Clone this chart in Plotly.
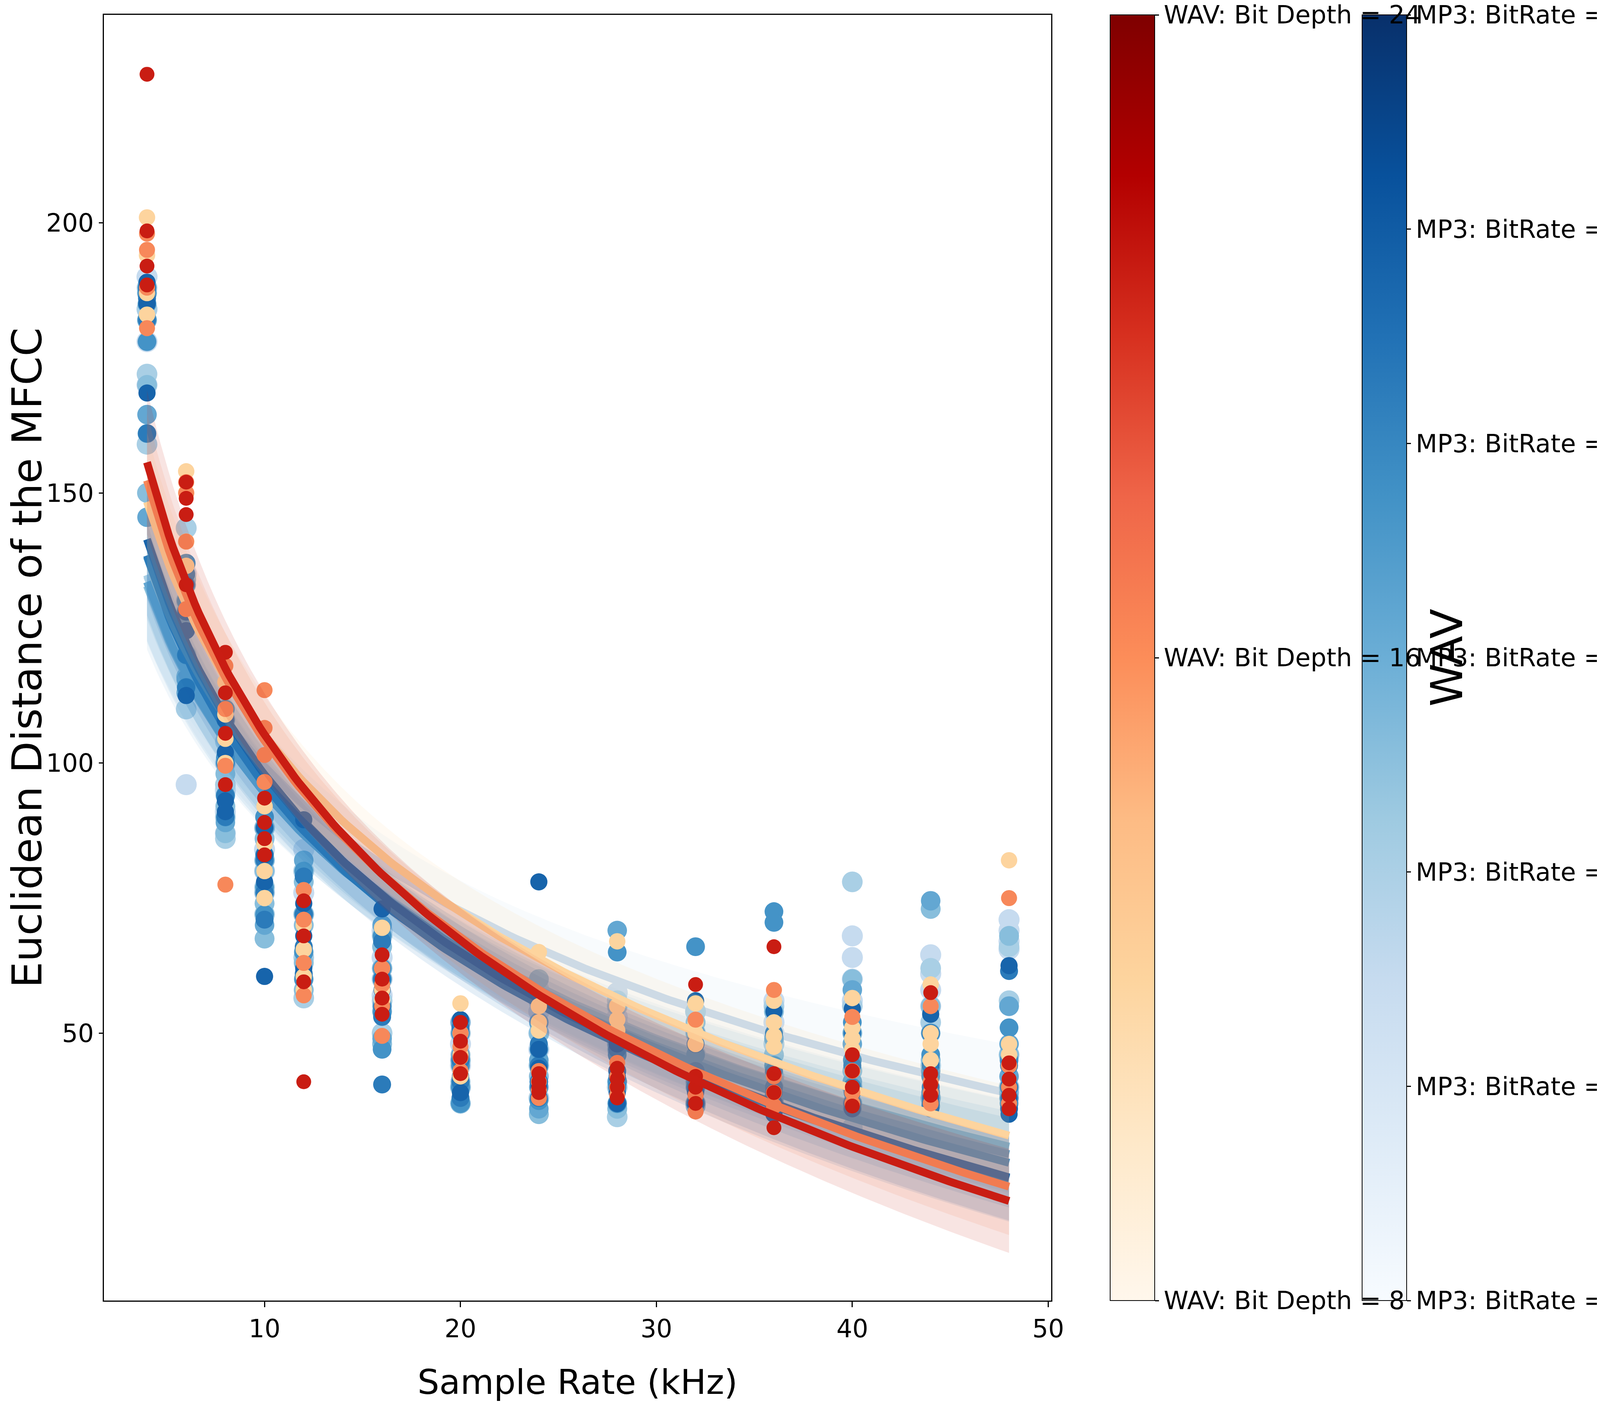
import numpy as np
import plotly.graph_objects as go

# Data
sample_rates = [4, 6, 8, 10, 12, 16, 20, 24, 28, 32, 36, 40, 44, 48]  # kHz

# Euclidean distance of the MFCC, four files per sample rate
mp3_br1 = [[190, 184, 178, 170], [143.5, 135, 125, 96], [100, 95, 91, 87], [88, 84, 80, 76],
           [84, 80, 76, 72], [69, 64, 60, 57], [52, 48, 44, 40], [58, 54, 50, 47],
           [57.5, 55, 53, 52], [54, 50, 46, 43], [56, 52, 50, 48], [68, 64, 60, 56],
           [64.5, 61, 58, 55], [71, 69, 67, 65.5]]
mp3_br2 = [[188, 184, 172, 159], [143.5, 130, 120, 110], [104, 96, 90, 86], [88, 82, 77, 72],
           [80, 72, 64, 56.5], [68, 62, 56, 50], [50, 45, 40, 37], [56, 50, 44, 38],
           [56, 48, 40, 34.5], [54, 46, 41, 37], [55, 48, 42, 38], [78, 55, 40, 32.5],
           [62, 52, 44, 38], [66, 56, 46, 40]]
mp3_br3 = [[187, 182, 170, 150], [134, 128, 119.5, 116], [106, 98, 92, 87], [86, 80, 74, 67.5],
           [78, 70, 63, 58], [66, 60, 54, 48], [52, 46, 41, 37], [60, 50, 42, 35],
           [55, 47, 41, 36], [52, 45, 40, 36.5], [54, 46, 41, 37], [60, 50, 43, 37],
           [73, 55, 45, 38], [68, 55, 46, 39]]
mp3_br4 = [[187, 182, 164.5, 145.5], [133, 126, 115.5, 113], [108, 100, 94, 89], [88, 82, 76, 70],
           [82, 72, 65, 60], [70, 62, 55, 49], [52, 45, 40, 37], [52, 45, 40, 36],
           [69, 48, 41, 37], [50, 44, 40, 37], [49, 44, 40, 37], [58, 48, 41, 37],
           [74.5, 50, 43, 38], [55, 48, 42, 38]]
mp3_br5 = [[188, 185, 178, 161], [137, 130, 120, 114], [110, 101, 94, 90], [90, 83, 77, 72],
           [80, 72, 65, 60], [68, 60, 54, 47], [50, 44, 40, 37], [47, 44, 41, 37.5],
           [65, 46, 41, 37], [66, 46, 41, 37], [72.5, 70.5, 44, 38], [52, 45, 40, 36],
           [46, 42, 39, 36.5], [51, 45, 40, 37]]
mp3_br6 = [[188, 186, 182, 161], [135, 128, 120, 114], [108, 100, 94, 90], [88, 82, 76, 71],
           [79, 72, 66, 61], [67, 60, 53, 40.5], [51, 45, 41, 38], [48, 44, 41, 38],
           [47, 43, 40, 37], [48, 43, 40, 37], [50, 43, 40, 37], [50, 44, 40, 37],
           [50, 44, 40, 37], [61.5, 44, 40, 36]]
mp3_br7 = [[189, 187, 185, 168.5], [133, 128, 124.5, 112.5], [108, 102, 93, 91], [88, 83, 78, 60.5],
           [89.5, 74, 68, 62], [73, 62, 58, 55], [52.5, 46, 42, 39], [78, 47, 43.5, 40],
           [48, 42, 39, 37], [56, 42, 39, 37], [54, 39, 37, 35], [54.5, 39, 37, 36],
           [53.5, 38, 37, 36], [62.5, 38, 36, 35]]

wav_bd8 = [[201, 194, 187, 183], [154, 150, 141, 136.5], [115, 109, 104.5, 100], [92, 85, 80, 75],
           [70, 65.5, 60.5, 58], [69.5, 62, 58, 56], [55.5, 50, 46, 42], [65, 55, 52, 50.5],
           [67, 55, 52.5, 50.5], [55.5, 52, 50, 48], [56, 52, 49.5, 47.5], [56.5, 51, 49, 47],
           [59, 50, 48, 45], [82, 48, 46, 44]]
wav_bd16 = [[198, 195, 188, 180.5], [152, 150, 141, 128.5], [118, 110, 99.5, 77.5], [113.5, 106.5, 101.5, 96.5],
            [76.5, 71, 63, 57], [62, 59, 55, 49.5], [50, 47.5, 45.5, 43], [43, 41, 39.5, 38],
            [44.5, 42, 40, 38.5], [52.5, 42, 38.5, 35.5], [58, 42, 39, 36.5], [53, 43, 39, 37],
            [55, 41, 39, 37], [75, 44, 40, 37]]
wav_bd24 = [[227.5, 198.5, 192, 188.5], [152, 149, 146, 133], [120.5, 113, 105.5, 96], [93.5, 89, 86, 83],
            [74.5, 68, 59.5, 41], [64.5, 60, 56.5, 53.5], [52, 48.5, 45.5, 42.5], [42.5, 41, 40, 39],
            [43.5, 41.5, 40, 38], [59, 42, 40, 37], [66, 42.5, 39, 32.5], [46, 43, 40, 36.5],
            [57.5, 42.5, 40.5, 38.5], [44.5, 41.5, 38.5, 36]]

mp3_bitrates = [8, 16, 32, 64, 128, 192, 320]
wav_bit_depths = [8, 16, 24]

mp3_series = [mp3_br1, mp3_br2, mp3_br3, mp3_br4, mp3_br5, mp3_br6, mp3_br7]
wav_series = [wav_bd8, wav_bd16, wav_bd24]

mp3_colors = ['#c6dbef', '#a9cfe5', '#88bedc', '#63a7d2', '#4493c7', '#2b7bba', '#1764ab']
wav_colors = ['#fdd49e', '#f7885a', '#c91d13']
mp3_sizes = [54, 53, 51, 50, 48, 46, 44]
wav_sizes = [42, 41, 38]

FONT = 'DejaVu Sans'


def rgba(hex_color, alpha):
    h = hex_color.lstrip('#')
    return 'rgba(%d,%d,%d,%.2f)' % (int(h[0:2], 16), int(h[2:4], 16), int(h[4:6], 16), alpha)


def log_fit(xs, ys):
    # y = a + b*ln(x) with a 95% confidence band
    lx = np.log(xs)
    b, a = np.polyfit(lx, ys, 1)
    n = len(xs)
    resid = ys - (a + b * lx)
    s = np.sqrt(np.sum(resid ** 2) / (n - 2))
    sxx = np.sum((lx - lx.mean()) ** 2)
    grid = np.linspace(min(xs), max(xs), 200)
    lg = np.log(grid)
    pred = a + b * lg
    se = s * np.sqrt(1.0 / n + (lg - lx.mean()) ** 2 / sxx)
    return grid, pred, pred - 1.96 * se, pred + 1.96 * se


fig = go.Figure()

all_series = list(zip(mp3_series, mp3_colors, mp3_sizes)) + list(zip(wav_series, wav_colors, wav_sizes))
for vals, color, size in all_series:
    xs = np.repeat(sample_rates, [len(v) for v in vals]).astype(float)
    ys = np.array([y for v in vals for y in v], dtype=float)

    fig.add_trace(go.Scatter(x=xs, y=ys, mode='markers',
                             marker=dict(color=color, size=size, line=dict(width=0)),
                             showlegend=False))

    grid, pred, lo, hi = log_fit(xs, ys)
    fig.add_trace(go.Scatter(x=grid, y=lo, mode='lines', line=dict(width=0, color=color),
                             showlegend=False, hoverinfo='skip'))
    fig.add_trace(go.Scatter(x=grid, y=hi, mode='lines', line=dict(width=0, color=color),
                             fill='tonexty', fillcolor=rgba(color, 0.12),
                             showlegend=False, hoverinfo='skip'))
    fig.add_trace(go.Scatter(x=grid, y=pred, mode='lines', line=dict(width=20, color=color),
                             showlegend=False))

# colour bars (MP3 bit rate, WAV bit depth), carried by invisible markers
cb_common = dict(y=0.5, yanchor='middle', len=1, lenmode='fraction', thickness=114,
                 thicknessmode='pixels', xanchor='left', xpad=0, ypad=0,
                 outlinecolor='black', outlinewidth=2, ticks='outside', ticklen=10,
                 tickwidth=2.5, tickcolor='black', ticklabeloverflow='allow',
                 tickfont=dict(size=64, color='black', family=FONT))

mp3_idx = list(range(len(mp3_bitrates)))
fig.add_trace(go.Scatter(
    x=[sample_rates[0]] * len(mp3_idx), y=[wav_bd24[0][0]] * len(mp3_idx),
    mode='markers', showlegend=False, hoverinfo='skip',
    marker=dict(color=mp3_idx, colorscale='Blues', cmin=0, cmax=mp3_idx[-1],
                opacity=0, size=1, showscale=True,
                colorbar=dict(x=1.3283, tickvals=mp3_idx,
                              ticktext=['MP3: BitRate = %d' % b for b in mp3_bitrates],
                              **cb_common))))

fig.add_trace(go.Scatter(
    x=[sample_rates[0]] * len(wav_bit_depths), y=[wav_bd24[0][0]] * len(wav_bit_depths),
    mode='markers', showlegend=False, hoverinfo='skip',
    marker=dict(color=wav_bit_depths, colorscale='OrRd', cmin=wav_bit_depths[0],
                cmax=wav_bit_depths[-1], opacity=0, size=1, showscale=True,
                colorbar=dict(x=1.0623, tickvals=wav_bit_depths,
                              ticktext=['WAV: Bit Depth = %d' % d for d in wav_bit_depths],
                              title=dict(text='WAV', side='right',
                                         font=dict(size=112, color='black', family=FONT)),
                              **cb_common))))

axis_common = dict(showline=True, linecolor='black', linewidth=3, mirror=True,
                   ticks='outside', tickwidth=3, tickcolor='black',
                   showgrid=False, zeroline=False,
                   tickfont=dict(size=64, color='black', family=FONT))

fig.update_layout(
    width=4080, height=3584,
    margin=dict(l=258, r=1397, t=30, b=262, autoexpand=False),
    paper_bgcolor='white', plot_bgcolor='white',
    font=dict(family=FONT, color='black'),
    showlegend=False,
    xaxis=dict(range=[1.8, 50.15], tickvals=[10, 20, 30, 40, 50], ticklen=14,
               title=dict(text='Sample Rate (kHz)', standoff=70,
                          font=dict(size=88, color='black', family=FONT)),
               **axis_common),
    yaxis=dict(range=[0.5, 238.5], tickvals=[50, 100, 150, 200], ticklen=10,
               title=dict(text='Euclidean Distance of the MFCC', standoff=6,
                          font=dict(size=106, color='black', family=FONT)),
               **axis_common),
)

fig.write_html("out.html")
